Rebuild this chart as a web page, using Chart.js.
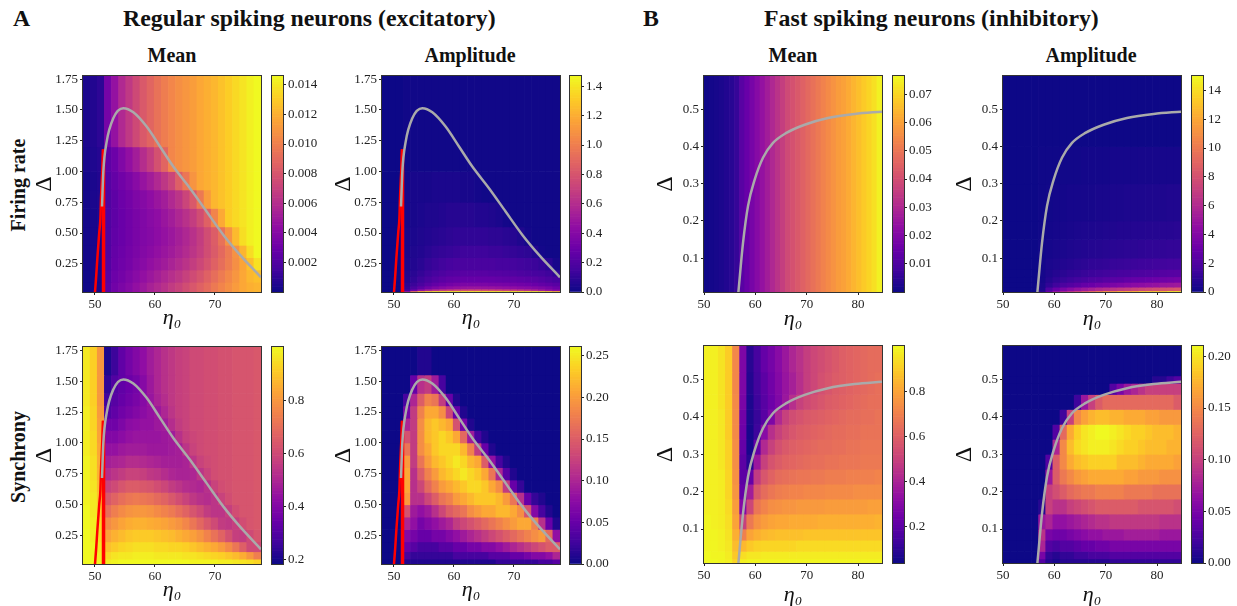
<!DOCTYPE html>
<html lang="en">
<head>
<meta charset="UTF-8">
<title>Regular and fast spiking neurons</title>
<script src="https://cdn.jsdelivr.net/npm/chart.js"></script>
<style>
    html, body { margin: 0; background: #fff; overflow: hidden; }
    #page { position: relative; width: 1237px; height: 606px; overflow: hidden; font-family: "Liberation Serif", serif; color: #111; }
    #page canvas { position: absolute; }
    .txt { position: absolute; font-weight: bold; white-space: nowrap; line-height: 1; }
    .big { font-size: 23.8px; top: 7px; }
    .sub { font-size: 20px; top: 45px; transform: translateX(-50%); }
    .side { font-size: 20px; left: 18px; transform: translate(-50%, -50%) rotate(-90deg); }
</style>
</head>
<body>
<div id="page">
    <div class="txt big" style="left:13px">A</div>
    <div class="txt big" style="left:123px">Regular spiking neurons (excitatory)</div>
    <div class="txt big" style="left:643px">B</div>
    <div class="txt big" style="left:764px">Fast spiking neurons (inhibitory)</div>
    <div class="txt sub" style="left:172px">Mean</div>
    <div class="txt sub" style="left:470px">Amplitude</div>
    <div class="txt sub" style="left:793px">Mean</div>
    <div class="txt sub" style="left:1091px">Amplitude</div>
    <div class="txt side" style="top:185px">Firing rate</div>
    <div class="txt side" style="top:457px">Synchrony</div>
</div>

<script>
    // axis ticks
    const rsEtaTicks = [50, 60, 70];
    const rsDeltaTicks = [0.25, 0.5, 0.75, 1, 1.25, 1.5, 1.75];
    const fsEtaTicks = [50, 60, 70, 80];
    const fsDeltaTicks = [0.1, 0.2, 0.3, 0.4, 0.5];
    const rsRateMeanTicks = [0.002, 0.004, 0.006, 0.008, 0.01, 0.012, 0.014];
    const rsRateAmpTicks = [0, 0.2, 0.4, 0.6, 0.8, 1, 1.2, 1.4];
    const rsSyncMeanTicks = [0.2, 0.4, 0.6, 0.8];
    const rsSyncAmpTicks = [0, 0.05, 0.1, 0.15, 0.2, 0.25];
    const fsRateMeanTicks = [0.01, 0.02, 0.03, 0.04, 0.05, 0.06, 0.07];
    const fsRateAmpTicks = [0, 2, 4, 6, 8, 10, 12, 14];
    const fsSyncMeanTicks = [0.2, 0.4, 0.6, 0.8];
    const fsSyncAmpTicks = [0, 0.05, 0.1, 0.15, 0.2];

    // bifurcation curves
    const rsCurveEta = [51.17, 51.39, 51.95, 53.05, 54.72, 56.39, 58.6, 60.83, 63.05, 65.83, 68.6, 71.4, 74.17, 77.67];
    const rsCurveDelta = [0.716, 1, 1.243, 1.433, 1.514, 1.481, 1.365, 1.203, 1.04, 0.864, 0.675, 0.485, 0.323, 0.14];
    const rsRedLeftEta = [50, 50.2, 50.4, 50.7, 50.9, 51, 51.2, 51.35];
    const rsRedLeftDelta = [0.02, 0.15, 0.3, 0.5, 0.62, 0.78, 1, 1.18];
    const rsRedRightEta = [51.42, 51.42];
    const rsRedRightDelta = [0.02, 1.18];
    const fsCurveEta = [56.7, 57.6, 58.57, 59.87, 61.49, 63.44, 66.05, 69.6, 74.15, 79.35, 84.67];
    const fsCurveDelta = [0.009, 0.141, 0.24, 0.311, 0.37, 0.41, 0.437, 0.459, 0.477, 0.488, 0.494];

    // row edges, top to bottom
    const rsRateMeanEdges = [1.775, 1.2, 1, 0.85, 0.7, 0.55, 0.4, 0.3, 0.2, 0.1, 0.02];
    const rsRateAmpEdges = [1.775, 1, 0.75, 0.55, 0.4, 0.3, 0.2, 0.15, 0.1, 0.07, 0.045, 0.03, 0.02];
    const rsSyncEdges = [1.775, 1.55, 1.4, 1.3, 1.2, 1.1, 1, 0.9, 0.8, 0.7, 0.6, 0.5, 0.4, 0.3, 0.2, 0.12, 0.06, 0.02];
    const fsRateMeanEdges = [0.59, 0.009];
    const fsRateAmpEdges = [0.59, 0.4, 0.3, 0.2, 0.15, 0.1, 0.07, 0.05, 0.035, 0.022, 0.012, 0.009];
    const fsSyncMeanEdges = [0.59, 0.52, 0.46, 0.42, 0.38, 0.34, 0.3, 0.26, 0.22, 0.18, 0.14, 0.1, 0.07, 0.04, 0.02, 0.009];
    const fsSyncAmpEdges = [0.59, 0.51, 0.49, 0.46, 0.42, 0.38, 0.34, 0.3, 0.26, 0.22, 0.18, 0.14, 0.1, 0.07, 0.04, 0.02, 0.009];

    const rsRateMean = [
        [.0004,.0006,.0009,.0034,.0046,.0058,.0066,.0074,.0082,.0088,.0094,.0099,.0103,.0107,.011,.0113,.0117,.012,.0123,.0127,.0131,.0135,.0139,.0143,.0146],
        [.0003,.0005,.0007,.0025,.003,.0038,.0045,.0052,.006,.0068,.0078,.0088,.0103,.0107,.011,.0113,.0117,.012,.0123,.0127,.0131,.0135,.0139,.0143,.0146],
        [.0002,.0004,.0006,.0022,.0027,.0032,.0036,.0041,.0047,.0052,.0058,.0065,.0072,.0085,.0096,.0109,.0117,.012,.0123,.0127,.0131,.0135,.0139,.0143,.0146],
        [.0002,.0004,.0005,.002,.0025,.003,.0033,.0037,.004,.0044,.0048,.0052,.0058,.0064,.0072,.0082,.0097,.0112,.0123,.0127,.0131,.0135,.0139,.0143,.0146],
        [.0002,.0003,.0005,.002,.0025,.0029,.0032,.0035,.0038,.0041,.0044,.0048,.0052,.0057,.0062,.0068,.0076,.0086,.0102,.0118,.0131,.0135,.0139,.0143,.0146],
        [.0002,.0003,.0004,.002,.0026,.0029,.0032,.0035,.0038,.004,.0043,.0046,.0049,.0053,.0057,.0062,.0068,.0076,.0084,.0094,.0108,.0124,.0137,.0143,.0146],
        [.0002,.0003,.0004,.002,.0027,.003,.0033,.0036,.0039,.0042,.0045,.0048,.0051,.0055,.0059,.0064,.0069,.0076,.0083,.009,.0098,.0108,.0122,.0136,.0146],
        [.0002,.0003,.0004,.0021,.0028,.0031,.0034,.0038,.0041,.0045,.0048,.0051,.0055,.0059,.0063,.0068,.0073,.0079,.0086,.0092,.0099,.0107,.0116,.0126,.0138],
        [.0001,.0002,.0003,.0022,.003,.0033,.0037,.0041,.0045,.0049,.0053,.0057,.0061,.0065,.007,.0075,.008,.0086,.0092,.0098,.0104,.011,.0117,.0123,.0126],
        [.0001,.0002,.0003,.0024,.0032,.0036,.004,.0045,.0049,.0054,.0058,.0062,.0067,.0071,.0076,.0081,.0086,.0091,.0097,.0102,.0107,.0112,.0117,.012,.0122]
    ];
    const rsRateAmp = [
        [0,0,0,.01,.01,.01,.01,.01,.01,.01,.01,.01,.01,.01,.01,.01,.01,.01,.01,.01,.01,.01,.01,.01,.01],
        [0,0,0,.02,.03,.03,.03,.04,.04,.04,.04,.03,.03,.02,.01,.01,.01,.01,.01,.01,.01,.01,.01,.01,.01],
        [0,0,0,.02,.03,.04,.05,.05,.06,.07,.07,.07,.07,.06,.06,.05,.04,.02,.01,.01,.01,.01,.01,.01,.01],
        [0,0,0,.03,.04,.05,.06,.07,.08,.09,.1,.1,.1,.1,.1,.09,.09,.08,.07,.05,.02,.01,.01,.01,.01],
        [0,0,0,.03,.05,.06,.08,.1,.11,.12,.13,.14,.14,.14,.14,.13,.13,.12,.11,.1,.09,.06,.02,.01,.01],
        [0,0,0,.04,.06,.08,.11,.13,.15,.17,.18,.18,.18,.18,.18,.18,.17,.17,.16,.15,.14,.13,.11,.08,.03],
        [0,0,0,.05,.08,.11,.14,.17,.19,.21,.22,.23,.23,.23,.23,.22,.22,.21,.2,.19,.18,.17,.16,.14,.1],
        [0,0,0,.06,.1,.14,.18,.21,.24,.26,.27,.28,.28,.28,.28,.28,.27,.26,.26,.25,.24,.23,.21,.19,.17],
        [0,0,0,.08,.13,.18,.23,.27,.3,.33,.35,.36,.36,.36,.36,.35,.35,.34,.33,.32,.31,.29,.27,.25,.23],
        [0,0,0,.1,.18,.25,.32,.37,.41,.44,.46,.47,.48,.48,.47,.47,.46,.45,.44,.42,.41,.39,.37,.34,.3],
        [0,0,0,.15,.3,.45,.55,.62,.68,.72,.75,.77,.78,.78,.77,.76,.74,.72,.7,.67,.63,.58,.52,.46,.4],
        [0,0,0,.5,1,1.3,1.4,1.45,1.47,1.47,1.47,1.47,1.47,1.47,1.47,1.47,1.47,1.47,1.47,1.47,1.47,1.47,1.45,1.4,1.3]
    ];
    const rsSyncMean = [
        [.97,.92,.8,.21,.26,.33,.37,.4,.43,.47,.5,.53,.55,.57,.58,.6,.6,.61,.61,.62,.62,.63,.63,.63,.64],
        [.97,.92,.8,.24,.3,.33,.35,.37,.41,.46,.5,.53,.55,.57,.58,.6,.6,.61,.61,.62,.62,.63,.63,.63,.64],
        [.97,.92,.8,.27,.31,.34,.36,.38,.41,.45,.49,.52,.55,.57,.58,.6,.6,.61,.61,.62,.62,.63,.63,.63,.64],
        [.98,.93,.81,.3,.33,.36,.38,.4,.42,.44,.46,.5,.54,.57,.58,.6,.6,.61,.61,.62,.62,.63,.63,.63,.64],
        [.98,.93,.82,.36,.36,.39,.42,.43,.44,.44,.46,.47,.52,.56,.58,.6,.6,.61,.61,.62,.62,.63,.63,.63,.64],
        [.98,.94,.83,.4,.4,.42,.44,.45,.45,.45,.45,.46,.47,.53,.57,.59,.6,.61,.61,.62,.62,.63,.63,.63,.64],
        [.98,.94,.84,.44,.44,.46,.47,.47,.47,.46,.46,.46,.47,.48,.54,.58,.6,.61,.61,.62,.62,.63,.63,.63,.64],
        [.99,.95,.85,.48,.49,.5,.52,.52,.51,.5,.49,.48,.48,.48,.49,.54,.58,.6,.61,.62,.62,.63,.63,.63,.64],
        [.99,.95,.86,.52,.54,.56,.58,.58,.57,.55,.54,.52,.5,.49,.49,.5,.54,.58,.61,.62,.62,.63,.63,.63,.64],
        [.99,.96,.88,.58,.6,.63,.65,.65,.64,.63,.61,.59,.56,.54,.52,.51,.5,.53,.58,.61,.62,.63,.63,.63,.64],
        [.99,.97,.9,.64,.67,.7,.72,.73,.72,.71,.69,.67,.64,.61,.58,.55,.53,.52,.54,.58,.61,.63,.63,.63,.64],
        [1,.97,.92,.7,.74,.77,.79,.8,.8,.79,.77,.75,.73,.7,.67,.63,.6,.56,.54,.54,.57,.61,.63,.63,.64],
        [1,.98,.94,.77,.8,.83,.85,.86,.86,.85,.84,.83,.81,.79,.76,.72,.68,.64,.6,.56,.55,.57,.61,.63,.64],
        [1,.98,.95,.83,.86,.88,.9,.91,.91,.91,.9,.89,.88,.86,.84,.82,.79,.75,.71,.67,.62,.57,.56,.6,.63],
        [1,.99,.97,.89,.91,.93,.94,.95,.95,.95,.94,.94,.93,.93,.92,.9,.88,.86,.84,.81,.77,.72,.66,.6,.6],
        [1,.99,.98,.94,.96,.97,.97,.98,.98,.98,.97,.97,.97,.97,.96,.96,.95,.94,.93,.92,.9,.88,.85,.8,.74],
        [1,1,.99,.98,.99,1,1,1,1,1,1,1,1,1,1,.99,.99,.99,.99,.98,.98,.97,.96,.95,.93]
    ];
    const rsSyncAmp = [
        [0,0,0,0,0,.01,.01,0,0,0,0,0,0,0,0,0,0,0,0,0,0,0,0,0,0],
        [0,0,0,0,.05,.11,.12,.09,.03,0,0,0,0,0,0,0,0,0,0,0,0,0,0,0,0],
        [0,0,0,.03,.1,.15,.18,.17,.12,.05,.01,0,0,0,0,0,0,0,0,0,0,0,0,0,0],
        [0,0,0,.06,.12,.18,.21,.21,.19,.13,.05,.01,0,0,0,0,0,0,0,0,0,0,0,0,0],
        [0,0,0,.1,.12,.19,.22,.23,.22,.21,.14,.06,.01,0,0,0,0,0,0,0,0,0,0,0,0],
        [0,0,0,.14,.12,.19,.22,.23,.24,.23,.21,.16,.09,.03,.01,0,0,0,0,0,0,0,0,0,0],
        [0,0,0,.17,.12,.19,.21,.23,.24,.24,.24,.22,.18,.12,.05,.01,0,0,0,0,0,0,0,0,0],
        [0,0,0,.2,.12,.17,.2,.22,.23,.24,.25,.24,.22,.21,.15,.08,.03,.01,0,0,0,0,0,0,0],
        [0,0,0,.21,.11,.15,.18,.2,.22,.23,.24,.25,.24,.23,.21,.17,.1,.04,.01,0,0,0,0,0,0],
        [0,0,0,.21,.11,.13,.16,.18,.2,.21,.22,.23,.24,.24,.23,.21,.19,.12,.05,.02,0,0,0,0,0],
        [0,0,0,.2,.11,.11,.13,.15,.17,.18,.2,.21,.22,.23,.23,.23,.22,.2,.17,.11,.05,.02,.01,0,0],
        [0,0,0,.14,.09,.08,.09,.11,.13,.15,.16,.17,.19,.2,.21,.21,.22,.22,.21,.19,.14,.07,.03,.01,0],
        [0,0,0,.1,.08,.06,.07,.08,.09,.1,.12,.13,.14,.15,.16,.17,.18,.19,.2,.21,.21,.18,.11,.05,.01],
        [0,0,0,.07,.06,.05,.05,.06,.06,.07,.08,.09,.1,.11,.12,.13,.14,.15,.16,.17,.18,.19,.2,.16,.08],
        [0,0,0,.05,.04,.03,.03,.03,.04,.04,.05,.05,.06,.06,.07,.07,.08,.09,.1,.11,.12,.13,.14,.15,.15],
        [0,0,0,.03,.02,.02,.02,.02,.02,.02,.03,.03,.03,.03,.03,.04,.04,.04,.05,.05,.06,.07,.07,.08,.1],
        [0,0,0,.01,.01,.01,.01,.01,.01,.01,.01,.01,.01,.01,.01,.01,.02,.02,.02,.02,.02,.02,.03,.03,.04]
    ];
    const fsRateMean = [
        [.0005,.001,.0015,.002,.003,.004,.006,.012,.015,.018,.021,.024,.027,.03,.033,.036,.039,.041,.043,.045,.047,.049,.051,.053,.055,.057,.059,.06,.062,.064,.066,.068,.07,.072,.075]
    ];
    const fsRateAmp = [
        [0,0,0,0,0,.02,.02,.02,.02,.02,.02,.02,.02,.02,.02,.02,.02,.02,.02,.02,.02,.02,.02,.02,.02],
        [0,0,0,0,0,.1,.1,.1,.15,.15,.15,.2,.2,.2,.2,.25,.25,.25,.25,.3,.3,.3,.3,.3,.3],
        [0,0,0,0,0,.1,.15,.2,.2,.25,.25,.3,.3,.35,.35,.4,.4,.45,.45,.45,.5,.5,.5,.55,.55],
        [0,0,0,0,0,.1,.2,.25,.3,.35,.4,.45,.45,.5,.55,.55,.6,.6,.65,.65,.7,.7,.75,.75,.8],
        [0,0,0,0,0,.15,.25,.35,.4,.5,.55,.6,.65,.7,.75,.8,.85,.9,.9,.95,1,1,1.05,1.1,1.1],
        [0,0,0,0,0,.2,.4,.5,.6,.7,.8,.9,1,1.05,1.1,1.2,1.25,1.3,1.35,1.4,1.45,1.5,1.55,1.6,1.6],
        [0,0,0,0,0,.25,.5,.7,.85,1,1.1,1.25,1.35,1.45,1.55,1.65,1.75,1.8,1.9,1.95,2,2.1,2.2,2.25,2.3],
        [0,0,0,0,0,.3,.7,1,1.2,1.4,1.6,1.8,2,2.1,2.3,2.4,2.5,2.7,2.8,2.9,3,3.1,3.2,3.3,3.4],
        [0,0,0,0,0,.4,1,1.5,1.9,2.2,2.5,2.8,3,3.3,3.5,3.7,3.9,4.1,4.3,4.4,4.6,4.7,4.9,5,5.1],
        [0,0,0,0,0,.5,2,3,3.6,4.2,4.7,5.1,5.5,5.9,6.2,6.5,6.8,7,7.3,7.5,7.7,7.9,8.1,8.2,8.4],
        [0,0,0,0,0,1,3,5,6,7,8,9,10,11,12,12,13,13,13,14,14,14,14,15,15]
    ];
    const fsSyncMean = [
        [.98,.98,.95,.9,.72,.28,.09,.15,.22,.26,.31,.36,.41,.45,.49,.52,.54,.56,.58,.6,.61,.62,.63,.64,.64],
        [.98,.98,.95,.9,.72,.28,.08,.14,.2,.25,.3,.35,.39,.44,.49,.52,.55,.57,.59,.6,.61,.62,.63,.64,.65],
        [.98,.98,.95,.9,.73,.27,.07,.13,.19,.24,.29,.36,.44,.5,.53,.55,.57,.59,.6,.61,.62,.63,.64,.65,.65],
        [.98,.98,.96,.9,.73,.25,.07,.12,.19,.28,.42,.5,.54,.56,.58,.59,.6,.61,.62,.63,.64,.64,.65,.65,.66],
        [.98,.98,.96,.9,.73,.24,.06,.13,.31,.44,.5,.54,.57,.59,.6,.61,.62,.63,.64,.64,.65,.65,.66,.66,.66],
        [.98,.98,.96,.91,.74,.22,.06,.22,.42,.5,.55,.58,.6,.61,.62,.63,.64,.64,.65,.65,.66,.66,.67,.67,.67],
        [.98,.98,.96,.91,.74,.2,.09,.36,.5,.56,.59,.61,.62,.63,.64,.65,.65,.66,.66,.67,.67,.67,.68,.68,.68],
        [.98,.98,.97,.92,.75,.2,.22,.48,.57,.61,.64,.65,.66,.67,.67,.68,.68,.69,.69,.69,.7,.7,.7,.7,.71],
        [.98,.98,.97,.92,.76,.22,.38,.58,.64,.67,.69,.7,.71,.71,.72,.72,.72,.73,.73,.73,.73,.74,.74,.74,.74],
        [.98,.98,.97,.93,.78,.3,.52,.67,.71,.74,.75,.76,.76,.77,.77,.77,.77,.78,.78,.78,.78,.78,.78,.79,.79],
        [.99,.98,.97,.94,.8,.5,.68,.75,.78,.8,.81,.81,.82,.82,.82,.82,.83,.83,.83,.83,.83,.83,.83,.83,.84],
        [.99,.99,.98,.95,.83,.7,.8,.83,.85,.86,.87,.87,.87,.87,.88,.88,.88,.88,.88,.88,.88,.88,.88,.88,.88],
        [.99,.99,.98,.96,.86,.85,.89,.91,.92,.92,.92,.92,.92,.93,.93,.93,.93,.93,.93,.93,.93,.93,.93,.93,.93],
        [1,.99,.99,.97,.89,.94,.96,.96,.97,.97,.97,.97,.97,.97,.97,.97,.97,.97,.97,.97,.97,.97,.97,.97,.97],
        [1,1,.99,.98,.92,.98,.99,.99,.99,.99,.99,.99,.99,.99,.99,.99,.99,.99,.99,.99,.99,.99,.99,.99,.99]
    ];
    const fsSyncAmp = [
        [0,0,0,0,0,0,0,0,0,0,0,0,0,0,0,0,0,0,0,0,0,0,0,0,0],
        [0,0,0,0,0,0,0,0,0,0,0,0,0,0,0,0,0,0,0,0,0,.01,.01,.02,.03],
        [0,0,0,0,0,0,0,0,0,0,0,0,0,0,0,.03,.05,.07,.08,.09,.1,.1,.1,.1,.1],
        [0,0,0,0,0,0,0,0,0,0,.02,.07,.1,.12,.13,.13,.13,.13,.13,.13,.13,.13,.13,.13,.12],
        [0,0,0,0,0,0,0,0,.02,.1,.15,.165,.175,.18,.18,.175,.175,.17,.17,.17,.165,.165,.16,.16,.16],
        [0,0,0,0,0,0,0,.03,.13,.17,.19,.2,.205,.21,.21,.205,.2,.195,.19,.19,.185,.18,.18,.18,.175],
        [0,0,0,0,0,0,0,.08,.15,.18,.195,.2,.205,.205,.205,.2,.195,.19,.19,.185,.18,.18,.18,.175,.175],
        [0,0,0,0,0,0,.03,.12,.15,.17,.18,.185,.19,.19,.19,.19,.18,.18,.18,.175,.17,.17,.17,.17,.165],
        [0,0,0,0,0,0,.07,.12,.14,.15,.16,.165,.17,.17,.17,.17,.17,.165,.165,.16,.16,.16,.155,.155,.155],
        [0,0,0,0,0,0,.1,.11,.12,.13,.135,.14,.14,.145,.145,.145,.145,.14,.14,.14,.14,.135,.135,.135,.135],
        [0,0,0,0,0,.01,.1,.09,.09,.1,.105,.11,.115,.12,.12,.12,.12,.12,.12,.115,.115,.115,.115,.115,.11],
        [0,0,0,0,0,.07,.08,.065,.065,.07,.075,.08,.085,.09,.09,.095,.095,.095,.095,.095,.095,.095,.09,.09,.09],
        [0,0,0,0,0,.09,.05,.045,.045,.05,.055,.06,.065,.065,.07,.07,.07,.075,.075,.075,.075,.075,.07,.07,.07],
        [0,0,0,0,0,.08,.03,.025,.03,.03,.035,.04,.04,.045,.045,.05,.05,.05,.05,.05,.05,.05,.05,.05,.05],
        [0,0,0,0,0,.05,.015,.01,.015,.015,.02,.02,.025,.025,.025,.03,.03,.03,.03,.03,.03,.03,.03,.03,.03],
        [0,0,0,0,0,.03,.01,.005,.01,.01,.01,.01,.01,.01,.01,.015,.015,.015,.015,.015,.015,.015,.015,.015,.015]
    ];

    // plasma colormap stops
    const plasma = ['#0d0887', '#41049d', '#6a00a8', '#8f0da4', '#b12a90', '#cc4778', '#e16462', '#f2844b', '#fca636', '#fcce25', '#f0f921'];

    function plasmaColor(f) {
        f = Math.min(1, Math.max(0, f)) * (plasma.length - 1);
        const i = Math.min(plasma.length - 2, Math.floor(f));
        const t = f - i;
        const rgb = s => [1, 3, 5].map(k => parseInt(s.slice(k, k + 2), 16));
        const a = rgb(plasma[i]), b = rgb(plasma[i + 1]);
        return `rgb(${a.map((v, k) => Math.round(v + (b[k] - v) * t)).join(',')})`;
    }

    const serif = '"Liberation Serif", serif';
    const inkColor = '#222';

    const framePlugin = {
        id: 'frame',
        afterDraw(chart) {
            const a = chart.chartArea, ctx = chart.ctx;
            ctx.save();
            ctx.strokeStyle = '#333';
            ctx.lineWidth = 1;
            ctx.strokeRect(a.left - 0.5, a.top - 0.5, a.right - a.left + 1, a.bottom - a.top + 1);
            ctx.restore();
        }
    };

    function addCanvas(left, top, width, height) {
        const c = document.createElement('canvas');
        c.width = width;
        c.height = height;
        c.style.left = left + 'px';
        c.style.top = top + 'px';
        c.style.width = width + 'px';
        c.style.height = height + 'px';
        document.getElementById('page').appendChild(c);
        return c;
    }

    function tickAxis(ticks, decimals) {
        return {
            afterBuildTicks: s => { s.ticks = ticks.map(v => ({ value: v })); },
            grid: { drawOnChartArea: false, drawTicks: true, tickLength: 3, color: inkColor },
            border: { display: false },
            ticks: {
                color: inkColor, padding: 2, autoSkip: false, maxRotation: 0,
                font: { family: serif, size: 13 },
                callback: v => v.toFixed(decimals)
            }
        };
    }

    // one floating-bar dataset per row of cells
    function cellDatasets(rows, edges, vmin, vmax) {
        return rows.map((row, r) => ({
            type: 'bar',
            order: 5,
            grouped: false,
            xAxisID: 'cx',
            yAxisID: 'y',
            data: row.map(() => [edges[r + 1], edges[r]]),
            backgroundColor: row.map(v => plasmaColor((v - vmin) / (vmax - vmin))),
            borderWidth: 0,
            barPercentage: 1,
            categoryPercentage: 1
        }));
    }

    function lineDataset(xs, ys, color, width, order) {
        return {
            type: 'line',
            order: order,
            xAxisID: 'x',
            yAxisID: 'y',
            data: xs.map((x, i) => ({ x: x, y: ys[i] })),
            borderColor: color,
            borderWidth: width,
            pointRadius: 0,
            cubicInterpolationMode: 'monotone'
        };
    }

    function heatmap(p) {
        const yW = 50, pad = 10;
        const canvas = addCanvas(p.left - yW, p.top - pad, p.w + yW + pad, p.h + pad + p.xH);
        new Chart(canvas, {
            data: {
                labels: p.rows[0].map((_, i) => i),
                datasets: cellDatasets(p.rows, p.edges, p.vmin, p.vmax).concat(p.lines)
            },
            plugins: [framePlugin],
            options: {
                responsive: false,
                animation: false,
                devicePixelRatio: 1,
                layout: { padding: { top: pad, right: pad } },
                plugins: { legend: { display: false }, tooltip: { enabled: false } },
                scales: {
                    cx: { type: 'category', display: false, stacked: true, offset: true, grid: { display: false } },
                    x: Object.assign(tickAxis(p.etaTicks, 0), {
                        type: 'linear', position: 'bottom', min: p.etaMin, max: p.etaMax,
                        afterFit: s => { s.height = p.xH; },
                        title: { display: true, text: 'η₀', color: '#111', padding: 0, font: { family: serif, style: 'italic', size: 22, lineHeight: 1 } }
                    }),
                    y: Object.assign(tickAxis(p.deltaTicks, p.deltaDecimals), {
                        type: 'linear', position: 'left', min: p.yMin, max: p.yMax, stacked: false,
                        afterFit: s => { s.width = yW; },
                        title: { display: true, text: 'Δ', color: '#111', padding: 0, font: { family: serif, size: 24, lineHeight: 1 } }
                    })
                }
            }
        });
    }

    function colorbar(p) {
        const w = 11, yW = 40, pad = 10, steps = 80;
        const canvas = addCanvas(p.left - 2, p.top - pad, w + yW + 2, p.h + pad * 2);
        // the bar shows the colour scale itself, not read data
        const edges = [], rows = [];
        for (let i = 0; i <= steps; i++) edges.push(p.vmax - (p.vmax - p.vmin) * i / steps);
        for (let i = 0; i < steps; i++) rows.push([(edges[i] + edges[i + 1]) / 2]);
        new Chart(canvas, {
            data: { labels: [0], datasets: cellDatasets(rows, edges, p.vmin, p.vmax) },
            plugins: [framePlugin],
            options: {
                responsive: false,
                animation: false,
                devicePixelRatio: 1,
                layout: { padding: { top: pad, bottom: pad, left: 2 } },
                plugins: { legend: { display: false }, tooltip: { enabled: false } },
                scales: {
                    cx: { type: 'category', display: false, stacked: true, offset: true, grid: { display: false } },
                    y: Object.assign(tickAxis(p.ticks, p.decimals), {
                        type: 'linear', position: 'right', min: p.vmin, max: p.vmax, stacked: false,
                        afterFit: s => { s.width = yW; }
                    })
                }
            }
        });
    }

    const rsLines = () => [
        lineDataset(rsCurveEta, rsCurveDelta, '#aaa', 2.5, 0),
        lineDataset(rsRedLeftEta, rsRedLeftDelta, '#f00', 2.5, 1),
        lineDataset(rsRedRightEta, rsRedRightDelta, '#f00', 3.5, 1)
    ];
    const fsLines = () => [lineDataset(fsCurveEta, fsCurveDelta, '#aaa', 2.5, 0)];

    const rsAxis = { w: 178, etaMin: 48, etaMax: 77.67, etaTicks: rsEtaTicks, yMin: 0.021, yMax: 1.776, deltaTicks: rsDeltaTicks, deltaDecimals: 2 };
    const fsAxis = { w: 178, etaMin: 50, etaMax: 84.67, etaTicks: fsEtaTicks, yMin: 0.009, yMax: 0.59, deltaTicks: fsDeltaTicks, deltaDecimals: 1 };

    const panels = [
        { axis: rsAxis, left: 83, cb: 272, top: 76, h: 216, xH: 37, rows: rsRateMean, edges: rsRateMeanEdges, vmin: 0, vmax: 0.0146, ticks: rsRateMeanTicks, decimals: 3, lines: rsLines() },
        { axis: rsAxis, left: 382, cb: 570, top: 76, h: 216, xH: 37, rows: rsRateAmp, edges: rsRateAmpEdges, vmin: 0, vmax: 1.47, ticks: rsRateAmpTicks, decimals: 1, lines: rsLines() },
        { axis: rsAxis, left: 83, cb: 272, top: 347, h: 217, xH: 37, rows: rsSyncMean, edges: rsSyncEdges, vmin: 0.184, vmax: 1, ticks: rsSyncMeanTicks, decimals: 1, lines: rsLines() },
        { axis: rsAxis, left: 382, cb: 570, top: 347, h: 217, xH: 37, rows: rsSyncAmp, edges: rsSyncEdges, vmin: 0, vmax: 0.2605, ticks: rsSyncAmpTicks, decimals: 2, lines: rsLines() },
        { axis: fsAxis, left: 704, cb: 893, top: 76, h: 216, xH: 38, rows: fsRateMean, edges: fsRateMeanEdges, vmin: 0, vmax: 0.0765, ticks: fsRateMeanTicks, decimals: 2, lines: fsLines() },
        { axis: fsAxis, left: 1003, cb: 1192, top: 76, h: 216, xH: 38, rows: fsRateAmp, edges: fsRateAmpEdges, vmin: 0, vmax: 15, ticks: fsRateAmpTicks, decimals: 0, lines: fsLines() },
        { axis: fsAxis, left: 704, cb: 893, top: 346, h: 217, xH: 43, rows: fsSyncMean, edges: fsSyncMeanEdges, vmin: 0.04, vmax: 1, ticks: fsSyncMeanTicks, decimals: 1, lines: fsLines() },
        { axis: fsAxis, left: 1003, cb: 1192, top: 346, h: 217, xH: 43, rows: fsSyncAmp, edges: fsSyncAmpEdges, vmin: 0, vmax: 0.21, ticks: fsSyncAmpTicks, decimals: 2, lines: fsLines() }
    ];

    panels.forEach(p => {
        heatmap(Object.assign({}, p.axis, p));
        colorbar({ left: p.cb, top: p.top, h: p.h, vmin: p.vmin, vmax: p.vmax, ticks: p.ticks, decimals: p.decimals });
    });
</script>
</body>
</html>
